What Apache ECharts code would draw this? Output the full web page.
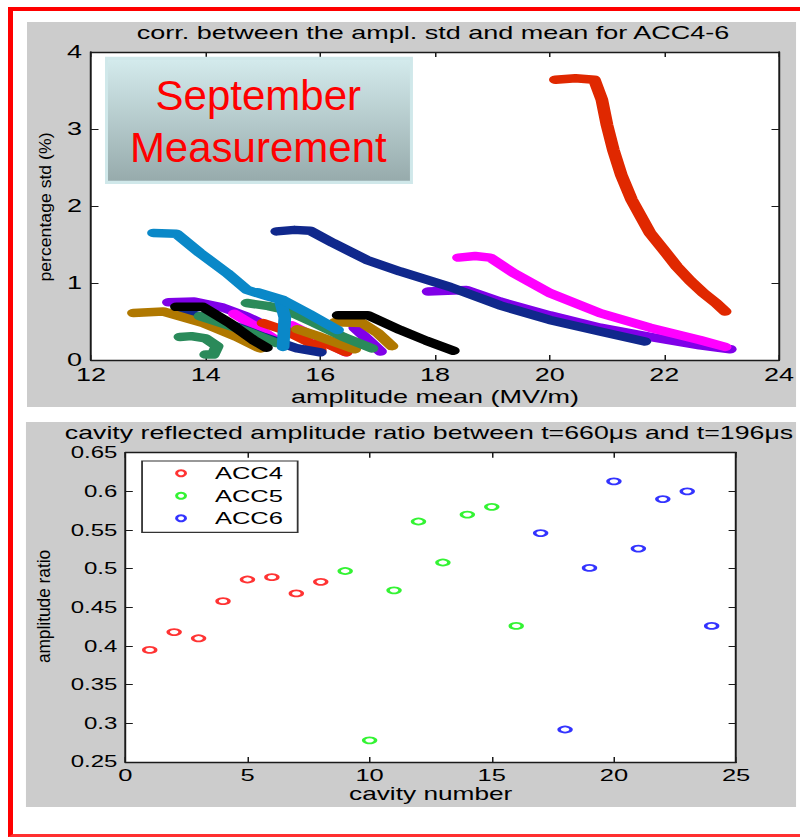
<!DOCTYPE html>
<html><head><meta charset="utf-8">
<script src="https://cdn.jsdelivr.net/npm/echarts@6/dist/echarts.min.js"></script>
<style>
html,body{margin:0;padding:0;background:#fff;overflow:hidden;}
#wrap{position:absolute;left:0;top:0;width:800px;height:837px;overflow:hidden;}
#chart{position:absolute;left:0;top:0;width:533.333px;height:837px;transform:scaleX(1.5);transform-origin:0 0;}
#frame{position:absolute;left:8px;top:7px;width:830px;height:823px;border-top:4px solid #ff0000;border-left:5px solid #ff0000;border-bottom:3px solid #ff3030;pointer-events:none;}
</style></head><body>
<div id="wrap"><div id="chart"></div><div id="frame"></div></div>
<script>
// ---------- texts ----------
const TOP_TITLE = 'corr. between the ampl. std and mean for ACC4-6';
const TOP_XNAME = 'amplitude mean (MV/m)';
const TOP_YNAME = 'percentage std (%)';
const BOT_TITLE = 'cavity reflected amplitude ratio between t=660\u03BCs and t=196\u03BCs';
const BOT_XNAME = 'cavity number';
const BOT_YNAME = 'amplitude ratio';
const BOX_LINE1 = 'September';
const BOX_LINE2 = 'Measurement';

// ---------- tick labels ----------
const topXTicks = [12, 14, 16, 18, 20, 22, 24];
const topYTicks = [0, 1, 2, 3, 4];
const botXTicks = [0, 5, 10, 15, 20, 25];
const botYTicks = [0.25, 0.3, 0.35, 0.4, 0.45, 0.5, 0.55, 0.6, 0.65];

// ---------- top chart curves: [amplitude mean, percentage std] ----------
const purple1 = [[17.88,0.89],[18.55,0.91],[19.13,0.76],[20.0,0.58],[20.88,0.42],[21.75,0.30],[22.62,0.19],[23.15,0.14]];
const purple2 = [[13.35,0.75],[13.8,0.76],[14.3,0.68],[14.7,0.57],[14.9,0.50]];
const purple3 = [[16.6,0.42],[16.85,0.25],[17.05,0.11]];
const magenta1 = [[18.41,1.33],[18.7,1.35],[18.96,1.33],[19.37,1.13],[20.0,0.87],[20.88,0.61],[21.75,0.42],[22.62,0.26],[23.06,0.17]];
const magenta2 = [[14.5,0.60],[14.9,0.42],[15.2,0.27]];
const magenta3 = [[15.5,0.45],[15.9,0.30],[16.45,0.10]];
const red1 = [[20.1,3.64],[20.45,3.66],[20.78,3.64],[20.91,3.38],[21.0,3.05],[21.11,2.73],[21.25,2.40],[21.43,2.08],[21.6,1.85],[21.75,1.65],[22.0,1.42],[22.22,1.21],[22.45,1.03],[22.68,0.87],[22.9,0.74],[23.06,0.63]];
const red2 = [[15.0,0.48],[15.4,0.38],[15.75,0.25],[16.0,0.13]];
const red3 = [[16.0,0.25],[16.45,0.10]];
const navy1 = [[15.24,1.67],[15.55,1.69],[15.82,1.68],[16.22,1.52],[16.81,1.30],[17.39,1.15],[18.26,0.95],[19.13,0.71],[20.0,0.52],[20.88,0.37],[21.66,0.24]];
const navy2 = [[13.6,0.62],[14.3,0.50],[15.0,0.30],[15.6,0.15],[16.0,0.10]];
const gold1 = [[12.74,0.61],[13.26,0.63],[13.96,0.48],[14.54,0.30],[14.95,0.15]];
const gold2 = [[15.6,0.40],[16.0,0.30],[16.6,0.14]];
const gold3 = [[16.25,0.49],[16.73,0.48],[17.0,0.35],[17.25,0.18]];
const green1 = [[13.55,0.30],[13.75,0.31],[14.0,0.28],[14.2,0.18],[14.13,0.07],[14.0,0.07]];
const green2 = [[13.9,0.57],[14.4,0.45],[14.8,0.35],[15.24,0.22]];
const green3 = [[14.72,0.74],[15.1,0.70],[15.4,0.65],[15.9,0.48],[16.4,0.30],[16.9,0.15]];
const lightblue1 = [[13.09,1.65],[13.49,1.64],[13.9,1.39],[14.37,1.13],[14.72,0.91],[15.07,0.83],[15.3,0.78],[15.38,0.55],[15.35,0.17]];
const lightblue2 = [[14.9,0.88],[15.35,0.78],[15.8,0.60],[16.3,0.39]];
const black1 = [[13.49,0.69],[13.95,0.69],[14.42,0.48],[14.83,0.26],[15.06,0.16]];
const black2 = [[16.31,0.58],[16.83,0.58],[17.39,0.39],[17.85,0.25],[18.32,0.12]];

// ---------- bottom chart points ----------
const cavityACC4 = [1, 2, 3, 4, 5, 6, 7, 8];
const ratioACC4  = [0.395, 0.418, 0.410, 0.458, 0.486, 0.489, 0.468, 0.483];
const cavityACC5 = [9, 10, 11, 12, 13, 14, 15, 16];
const ratioACC5  = [0.497, 0.278, 0.472, 0.561, 0.508, 0.570, 0.580, 0.426];
const cavityACC6 = [17, 18, 19, 20, 21, 22, 23, 24];
const ratioACC6  = [0.546, 0.292, 0.501, 0.613, 0.526, 0.590, 0.600, 0.426];

// ---------- build ----------
const FONT = 'Liberation Sans, Arial, Helvetica, sans-serif';
const COL = {purple:'#8000e8', magenta:'#ff00ff', red:'#e02800', navy:'#10288c', gold:'#b07800', green:'#2a8a5a', lightblue:'#0a88c8', black:'#000000'};
const curves = [
  ['purple', purple1], ['purple', purple2], ['purple', purple3],
  ['magenta', magenta1], ['magenta', magenta2], ['magenta', magenta3],
  ['red', red3], ['red', red2], ['navy', navy2], ['red', red1], ['navy', navy1],
  ['gold', gold1], ['gold', gold2], ['gold', gold3],
  ['green', green1], ['green', green2], ['green', green3],
  ['lightblue', lightblue1], ['lightblue', lightblue2],
  ['black', black1], ['black', black2]
];
const AX = '#1a1a1a';
function fmt(v) { return String(parseFloat(Number(v).toFixed(2))); }
function axisBase(ticks, pos, gi, showLabel, labelSize, margin) {
  return {
    type: 'value', gridIndex: gi, position: pos,
    min: ticks[0], max: ticks[ticks.length - 1], interval: ticks[1] - ticks[0],
    axisLine: {show: true, onZero: false, lineStyle: {color: AX, width: 1.3}},
    axisTick: {show: true, inside: true, length: 5, lineStyle: {color: AX, width: 1}},
    axisLabel: {show: showLabel, color: '#000', fontSize: labelSize, fontFamily: FONT, margin: margin, formatter: fmt},
    splitLine: {show: false}
  };
}
const xTop = axisBase(topXTicks, 'bottom', 0, true, 18, 5.5);
Object.assign(xTop, {name: TOP_XNAME, nameLocation: 'middle', nameGap: 27.5, nameMoveOverlap: false,
  nameTextStyle: {color: '#000', fontSize: 18, fontFamily: FONT}});
const xBot = axisBase(botXTicks, 'bottom', 1, true, 17, 4.3);
Object.assign(xBot, {name: BOT_XNAME, nameLocation: 'middle', nameGap: 23.5, nameMoveOverlap: false,
  nameTextStyle: {color: '#000', fontSize: 17.5, fontFamily: FONT}});

const series = curves.map(function (c, i) {
  return {
    type: 'line', name: 'curve' + i, xAxisIndex: 0, yAxisIndex: 0,
    data: c[1], showSymbol: false, symbol: 'none', silent: true,
    lineStyle: {color: COL[c[0]], width: 8.5, cap: 'round', join: 'round'}
  };
});
function scatter(name, xs, ys, color) {
  return {
    type: 'scatter', name: name, xAxisIndex: 2, yAxisIndex: 2,
    data: xs.map(function (x, i) { return [x, ys[i]]; }),
    symbol: 'emptyCircle', symbolSize: [8, 6],
    itemStyle: {color: color, borderColor: color, borderWidth: 1.5}
  };
}
series.push(scatter('ACC4', cavityACC4, ratioACC4, '#ff0000'));
series.push(scatter('ACC5', cavityACC5, ratioACC5, '#00f000'));
series.push(scatter('ACC6', cavityACC6, ratioACC6, '#0000ff'));

const chart = echarts.init(document.getElementById('chart'), null, {renderer: 'svg', width: 533.333, height: 837});
chart.setOption({
  animation: false,
  backgroundColor: 'transparent',
  title: [
    {text: TOP_TITLE, left: 288.7, top: 23.3, textAlign: 'center', padding: 0,
     textStyle: {fontSize: 18, fontWeight: 'normal', color: '#000', fontFamily: FONT}},
    {text: BOT_TITLE, left: 286, top: 424, textAlign: 'center', padding: 0,
     textStyle: {fontSize: 17.8, fontWeight: 'normal', color: '#000', fontFamily: FONT}}
  ],
  legend: {
    data: ['ACC4', 'ACC5', 'ACC6'], orient: 'vertical', left: 94.7, top: 461,
    padding: [3.8, 9.8, 5.5, 22], itemWidth: 8, itemHeight: 6, itemGap: 5.5,
    backgroundColor: '#fff', borderColor: '#333', borderWidth: 1.2,
    textStyle: {fontSize: 17, color: '#000', fontFamily: FONT, padding: [0, 0, 0, 13.6]},
    selectedMode: false
  },
  grid: [
    {left: 60.67, top: 52, width: 458.67, height: 308, show: true, backgroundColor: '#fff', borderWidth: 0, outerBoundsMode: 'none'},
    {left: 83.53, top: 452.7, width: 407.2, height: 309.3, show: true, backgroundColor: '#fff', borderWidth: 0, outerBoundsMode: 'none'}
  ],
  xAxis: [xTop, axisBase(topXTicks, 'top', 0, false, 18, 5), xBot, axisBase(botXTicks, 'top', 1, false, 17, 4)],
  yAxis: [
    axisBase(topYTicks, 'left', 0, true, 18, 6),
    axisBase(topYTicks, 'right', 0, false, 18, 6),
    axisBase(botYTicks, 'left', 1, true, 16, 5.3),
    axisBase(botYTicks, 'right', 1, false, 16, 5.3)
  ],
  graphic: [
    {type: 'rect', z: -10, silent: true, shape: {x: 18, y: 22, width: 512.7, height: 385}, style: {fill: '#cccccc'}},
    {type: 'rect', z: -10, silent: true, shape: {x: 17.3, y: 422, width: 513.4, height: 385}, style: {fill: '#cccccc'}},
    {type: 'rect', z: 50, silent: true, shape: {x: 70, y: 56.7, width: 205.3, height: 127.3}, style: {fill: '#d0e8ea'}},
    {type: 'rect', z: 51, silent: true, shape: {x: 72, y: 60, width: 201.3, height: 120.7},
     style: {fill: {type: 'linear', x: 0, y: 0, x2: 0, y2: 1, colorStops: [{offset: 0, color: '#d3eaec'}, {offset: 1, color: '#97abac'}]}}},
    {type: 'text', z: 52, silent: true, x: 172.2, y: 95.5, scaleX: 1 / 1.5,
     style: {text: BOX_LINE1, fill: '#ff0000', fontSize: 42, fontFamily: FONT, align: 'center', verticalAlign: 'middle'}},
    {type: 'text', z: 52, silent: true, x: 172.2, y: 147.5, scaleX: 1 / 1.5,
     style: {text: BOX_LINE2, fill: '#ff0000', fontSize: 42, fontFamily: FONT, align: 'center', verticalAlign: 'middle'}},
    {type: 'text', z: 52, silent: true, x: 30.3, y: 207, rotation: Math.PI / 2, scaleX: 1.68,
     style: {text: TOP_YNAME, fill: '#000', fontSize: 10.5, fontFamily: FONT, align: 'center', verticalAlign: 'middle'}},
    {type: 'text', z: 52, silent: true, x: 29, y: 606.5, rotation: Math.PI / 2, scaleX: 1.44,
     style: {text: BOT_YNAME, fill: '#000', fontSize: 12, fontFamily: FONT, align: 'center', verticalAlign: 'middle'}}
  ],
  series: series
});
</script>
</body></html>
